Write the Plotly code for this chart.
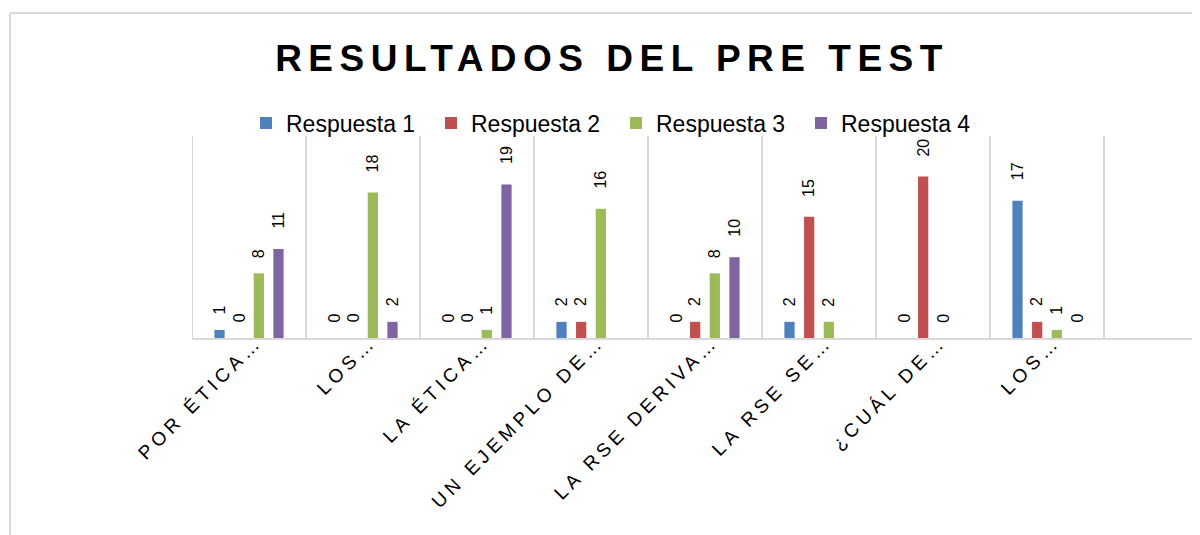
import plotly.graph_objects as go

categories = ["POR ÉTICA…", "LOS…", "LA ÉTICA…", "UN EJEMPLO DE…", "LA RSE DERIVA…",
              "LA RSE SE…", "¿CUÁL DE…", "LOS…", ""]
series_names = ["Respuesta 1", "Respuesta 2", "Respuesta 3", "Respuesta 4"]
respuesta1 = [1, 0, 0, 2, 0, 2, 0, 17, None]
respuesta2 = [0, 0, 0, 2, 2, 15, 20, 2, None]
respuesta3 = [8, 18, 1, 16, 8, 2, 0, 1, None]
respuesta4 = [11, 2, 19, None, 10, None, None, 0, None]
colors = ["#4F81BD", "#C0504D", "#9BBB59", "#8064A2"]
title_text = "RESULTADOS DEL PRE TEST"

FONT = "Liberation Sans, Arial, sans-serif"
W, H = 1200, 535
OFF = 8  # page body margin
ML, MR, MT, MB = 192 - OFF, 0, 136 - OFF, 535 - (338 - OFF)
CAT_W = 114
BARGAP = 0.31

all_series = [respuesta1, respuesta2, respuesta3, respuesta4]
fig = go.Figure()
for name, vals, col in zip(series_names, all_series, colors):
    fig.add_trace(go.Bar(
        x=list(range(len(categories))), y=vals, name=name,
        marker=dict(color=col, line=dict(width=0)),
    ))

# rotated data labels, placed above each bar (Excel style)
nser = len(all_series)
for k, vals in enumerate(all_series):
    for i, v in enumerate(vals):
        if v is None:
            continue
        s = str(v)
        fig.add_annotation(
            x=i + (k - (nser - 1) / 2) * (1 - BARGAP) / nser, y=v,
            text=s, showarrow=False, textangle=-90,
            xanchor="center", yanchor="middle", yshift=11 + 9 * len(s),
            font=dict(family=FONT, size=16, color="#000000"),
        )

pw = W - ML - MR
ph = H - MT - MB
# chart-area border (top and left edges visible)
bx = (10 - OFF - ML) / pw
by_top = (H - MB - (13 - OFF)) / ph
by_bot = -MB / ph - 0.2
fig.add_shape(type="line", xref="paper", yref="paper", x0=bx, x1=1.05, y0=by_top, y1=by_top,
              line=dict(color="#D9D9D9", width=2), layer="below")
fig.add_shape(type="line", xref="paper", yref="paper", x0=bx, x1=bx, y0=by_top, y1=by_bot,
              line=dict(color="#D9D9D9", width=2), layer="below")

fig.update_layout(
    width=W, height=H,
    margin=dict(l=ML, r=MR, t=MT, b=MB, autoexpand=False),
    paper_bgcolor="white", plot_bgcolor="white",
    barmode="group", bargap=BARGAP, bargroupgap=0.48,
    title=dict(text="<b><span style='letter-spacing:6.5px'>" + title_text + "</span></b>",
               x=(612 - OFF) / W, xref="container", xanchor="center",
               y=1 - (58 - OFF) / H, yref="container", yanchor="middle",
               font=dict(family=FONT, size=37, color="#000000")),
    legend=dict(orientation="h", xref="container", yref="container",
                x=238 / W, xanchor="left", y=1 - (123 - OFF) / H, yanchor="middle",
                font=dict(family=FONT, size=23, color="#000000"),
                itemwidth=30, entrywidth=140, tracegroupgap=0, bgcolor="rgba(0,0,0,0)"),
    showlegend=True,
    font=dict(family=FONT),
)
ticktext = ["<span style='letter-spacing:4.5px'>" + c + "</span>" if c else "" for c in categories]
fig.update_xaxes(
    tickmode="array", tickvals=list(range(len(categories))), ticktext=ticktext,
    range=[-0.5, -0.5 + pw / CAT_W],
    tickangle=-45, tickfont=dict(family=FONT, size=19, color="#000000"),
    ticklabelstandoff=-17, ticklabelshift=8,
    showgrid=False,
    showline=True, linecolor="#D9D9D9", linewidth=2,
    ticks="", zeroline=False, fixedrange=True,
)
fig.update_yaxes(range=[0, 25], showgrid=False, showticklabels=False, showline=False,
                 zeroline=False, ticks="")

# gridlines at category boundaries
for i in range(len(categories)):
    fig.add_vline(x=i - 0.5, line=dict(color="#D9D9D9", width=2), layer="below")

fig.write_html("out.html")
